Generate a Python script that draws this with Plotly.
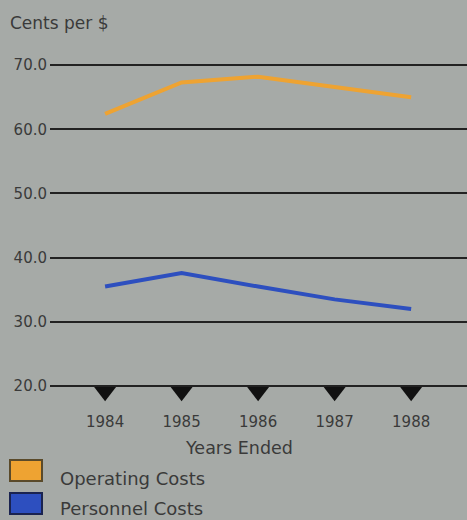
import plotly.graph_objects as go

years = [1984, 1985, 1986, 1987, 1988]
operating_costs = [62.4, 67.3, 68.2, 66.6, 65.0]
personnel_costs = [35.5, 37.6, 35.5, 33.5, 32.0]
series_names = ["Operating Costs", "Personnel Costs"]
series_colors = ["#eea332", "#2d4fbf"]
series_borders = ["#5a4a2a", "#1a2350"]
y_ticks = [20, 30, 40, 50, 60, 70]

W, H = 467, 520
ML, MR, MT, MB = 50, 0, 60, 116
PW, PH = W - ML - MR, H - MT - MB
BG = "#a6aaa7"
TXT = "#3a3a3a"
FONT = "DejaVu Sans"

def px_x(x):
    return (x - ML) / PW

def px_y(y):
    return (H - MB - y) / PH

ymin, ymax = 17.2, 70.8
baseline = 20
tick_size = 19
# triangle-down: top edge is size/4 above its centre -> put top on the baseline
marker_y = baseline - (tick_size / 4 + 1) * (ymax - ymin) / PH

fig = go.Figure()
fig.add_trace(go.Scatter(x=years, y=operating_costs, mode="lines",
                         line=dict(color=series_colors[0], width=4),
                         name=series_names[0], showlegend=False))
fig.add_trace(go.Scatter(x=years, y=personnel_costs, mode="lines",
                         line=dict(color=series_colors[1], width=4),
                         name=series_names[1], showlegend=False))
fig.add_trace(go.Scatter(x=years, y=[marker_y] * len(years), mode="markers",
                         marker=dict(symbol="triangle-down", size=tick_size, color="#111111",
                                     line=dict(width=0)),
                         showlegend=False, hoverinfo="skip"))

# legend boxes + labels
shapes = []
annotations = []
box_tops = [460, 493]
text_centers = [478, 508]
for i, name in enumerate(series_names):
    top = box_tops[i]
    shapes.append(dict(type="rect", xref="paper", yref="paper",
                       x0=px_x(10), x1=px_x(42), y0=px_y(top + 21), y1=px_y(top),
                       fillcolor=series_colors[i],
                       line=dict(color=series_borders[i], width=2)))
    annotations.append(dict(text=name, xref="paper", yref="paper",
                            x=px_x(58), y=px_y(text_centers[i]), xanchor="left", yanchor="middle",
                            showarrow=False, font=dict(family=FONT, size=18, color=TXT)))

annotations.append(dict(text="Years Ended", xref="paper", yref="paper",
                        x=px_x(239), y=px_y(448), xanchor="center", yanchor="middle",
                        showarrow=False, font=dict(family=FONT, size=17.5, color=TXT)))
annotations.append(dict(text="Cents per $", xref="paper", yref="paper",
                        x=px_x(8), y=px_y(23), xanchor="left", yanchor="middle",
                        showarrow=False, font=dict(family=FONT, size=17, color=TXT)))

fig.update_layout(
    width=W, height=H,
    margin=dict(l=ML, r=MR, t=MT, b=MB),
    paper_bgcolor=BG, plot_bgcolor=BG,
    font=dict(family=FONT, color=TXT, size=15),
    shapes=shapes, annotations=annotations,
    showlegend=False,
)
fig.update_xaxes(
    range=[1983.28, 1988.73], tickvals=years, ticktext=[str(y) for y in years],
    showgrid=False, zeroline=False, showline=False,
    ticks="", ticklabelstandoff=7, tickfont=dict(family=FONT, size=15, color=TXT),
)
fig.update_yaxes(
    range=[ymin, ymax], tickvals=y_ticks, ticktext=[f"{v:.1f}" for v in y_ticks],
    showgrid=True, gridcolor="#222222", gridwidth=2, zeroline=False, showline=False,
    ticks="", ticklabelstandoff=2, tickfont=dict(family=FONT, size=15, color=TXT),
)

fig.write_html("out.html", config={"displayModeBar": False},
               post_script="document.body.style.margin='0';document.body.style.background='" + BG + "';")
